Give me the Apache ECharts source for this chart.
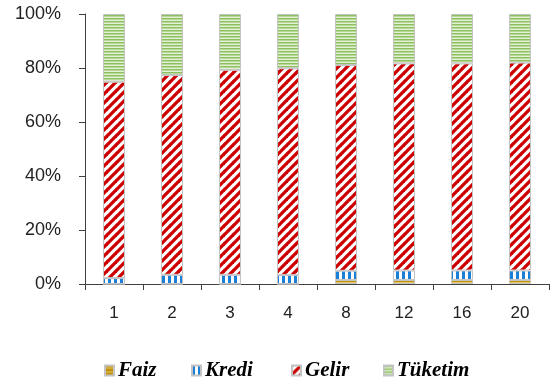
<!DOCTYPE html>
<html>
<head>
<meta charset="utf-8">
<script src="https://cdn.jsdelivr.net/npm/echarts@6/dist/echarts.min.js"></script>
<style>
  html, body { margin: 0; padding: 0; background: #fff; }
  #chart { width: 552px; height: 384px; }
</style>
</head>
<body>
<div id="chart"></div>
<script>
// Periods on the horizontal axis
const categories = ['1', '2', '3', '4', '8', '12', '16', '20'];

// Shares of each component (percent), stacked bottom to top
const faiz    = [0, 0, 0, 0, 1.5, 1.5, 1.5, 1.5];
const kredi   = [2.2, 3.4, 3.4, 3.3, 3.4, 3.5, 3.5, 3.5];
const gelir   = [72.7, 74.0, 75.9, 76.6, 76.2, 76.7, 76.7, 77.0];
const tuketim = [25.1, 22.6, 20.7, 20.1, 18.9, 18.3, 18.3, 18.0];

const seriesNames = ['Faiz', 'Kredi', 'Gelir', 'Tüketim'];
const yTicks = [0, 20, 40, 60, 80, 100];

// Small canvas tiles used as repeating fill patterns
function tile(w, h, draw) {
  const c = document.createElement('canvas');
  c.width = w; c.height = h;
  const ctx = c.getContext('2d');
  draw(ctx, w, h);
  return { image: c, repeat: 'repeat' };
}

const faizFill = tile(4, 4, (ctx, w, h) => {
  ctx.fillStyle = '#c0920e'; ctx.fillRect(0, 0, w, h);
  ctx.fillStyle = '#e6c868'; ctx.fillRect(0, 2, w, 1);
});
const krediFill = tile(6, 6, (ctx, w, h) => {
  ctx.fillStyle = '#ffffff'; ctx.fillRect(0, 0, w, h);
  ctx.fillStyle = '#1a7fd6'; ctx.fillRect(0, 0, 3, h);
});
const gelirFill = tile(9, 9, (ctx, w, h) => {
  ctx.fillStyle = '#ffffff'; ctx.fillRect(0, 0, w, h);
  ctx.strokeStyle = '#cc0000'; ctx.lineWidth = 3.3;
  for (let k = -1; k <= 1; k++) {
    ctx.beginPath();
    ctx.moveTo(k * w - 1, h + 1);
    ctx.lineTo(k * w + w + 1, -1);
    ctx.stroke();
  }
});
const tuketimFill = tile(3, 3, (ctx, w, h) => {
  ctx.fillStyle = '#e4f0d8'; ctx.fillRect(0, 0, w, h);
  ctx.fillStyle = '#8cc05c'; ctx.fillRect(0, 0, w, 1.5);
});

function barSeries(name, data, fill) {
  return {
    name: name,
    type: 'bar',
    stack: 'total',
    data: data,
    barWidth: '38%',
    itemStyle: { color: fill, borderColor: '#c4c4c4', borderWidth: 1 },
    emphasis: { disabled: true }
  };
}

// One legend block per series so each entry sits at its own spot
const legendLeft = [99, 186, 286, 378];
const legends = seriesNames.map((name, i) => ({
  left: legendLeft[i],
  top: 355,
  itemWidth: 9,
  itemHeight: 10,
  icon: 'rect',
  textStyle: {
    fontFamily: 'Liberation Serif',
    fontStyle: 'italic',
    fontWeight: 'bold',
    fontSize: 21,
    color: '#000',
    padding: [0, 0, 0, -1]
  },
  data: [name]
}));

const chart = echarts.init(document.getElementById('chart'), null, { renderer: 'canvas' });
chart.setOption({
  animation: false,
  backgroundColor: '#ffffff',
  grid: { left: 85, right: 3, top: 14, bottom: 100 },
  legend: legends,
  xAxis: {
    type: 'category',
    data: categories,
    boundaryGap: true,
    axisLine: { lineStyle: { color: '#404040', width: 1 } },
    axisTick: { show: true, length: 6, inside: false, alignWithLabel: false, lineStyle: { color: '#404040' } },
    axisLabel: { margin: 21, fontFamily: 'Liberation Sans', fontSize: 17, color: '#222' }
  },
  yAxis: {
    type: 'value',
    min: yTicks[0],
    max: yTicks[yTicks.length - 1],
    interval: yTicks[1] - yTicks[0],
    splitLine: { show: false },
    axisLine: { show: true, lineStyle: { color: '#404040', width: 1 } },
    axisTick: { show: true, length: 6, lineStyle: { color: '#404040' } },
    axisLabel: { margin: 24, fontFamily: 'Liberation Sans', fontSize: 18, color: '#222', formatter: '{value}%' }
  },
  series: [
    barSeries(seriesNames[0], faiz, faizFill),
    barSeries(seriesNames[1], kredi, krediFill),
    barSeries(seriesNames[2], gelir, gelirFill),
    barSeries(seriesNames[3], tuketim, tuketimFill)
  ]
});
</script>
</body>
</html>
